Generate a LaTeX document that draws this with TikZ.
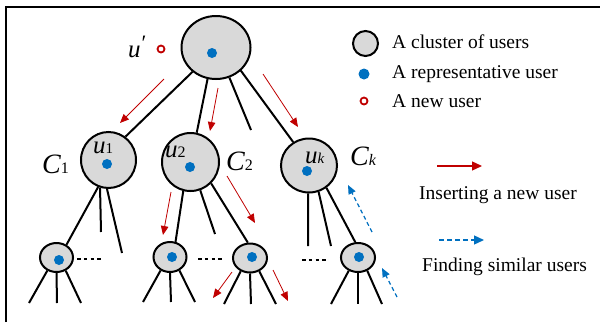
\documentclass[tikz,border=0pt]{standalone}
\usepackage{fontspec}
\setmainfont{Liberation Serif}
\usetikzlibrary{arrows.meta,shapes.geometric}
\definecolor{cgray}{RGB}{217,217,217}
\definecolor{cblue}{RGB}{0,112,192}
\definecolor{cred}{RGB}{192,0,0}
\newcommand\legfont{\fontsize{19.5}{19.5}\selectfont}
\newcommand\ufont{\fontsize{25}{25}\selectfont\itshape}
\newcommand\usubfont{\fontsize{15}{15}\selectfont}
\newcommand\cfont{\fontsize{28}{28}\selectfont\itshape}
\newcommand\csubfont{\fontsize{16}{16}\selectfont}
\begin{document}
\begin{tikzpicture}[x=1pt,y=-1pt,
  clus/.style={ellipse, draw=black, line width=2pt, fill=cgray, inner sep=0pt},
  rep/.style={circle, fill=cblue, inner sep=0pt, minimum size=10pt},
  newu/.style={circle, draw=cred, line width=1.8pt, inner sep=0pt, minimum size=7pt},
  tline/.style={line width=2pt},
  dotsline/.style={line width=2pt, dash pattern=on 3.5pt off 3.3pt},
  ins/.style={cred, line width=0.8pt, -{Triangle[length=9pt,width=7.5pt]}},
  fnd/.style={cblue, line width=1.2pt, dash pattern=on 4pt off 3pt, -{Triangle[length=9pt,width=7.5pt]}},
  lbl/.style={inner sep=0pt, anchor=base west}]
\useasboundingbox (0,0) rectangle (600,322);
\fill[white] (0,0) rectangle (600,322);
% frame
\coordinate (fa) at (6,322);
\coordinate (fb) at (6,7);
\coordinate (fc) at (600,7);
\draw[line width=2.2pt] (fa) -- (fb) -- (fc);

% clusters
\node[clus, minimum width=69pt, minimum height=63pt] (root) at (216,47.5) {};
\node[clus, minimum width=55pt, minimum height=56pt] (c1) at (108.5,160) {};
\node[clus, minimum width=57pt, minimum height=58pt] (c2) at (190.5,162) {};
\node[clus, minimum width=56pt, minimum height=54pt] (ck) at (309,165.5) {};
\node[clus, minimum width=33pt, minimum height=29pt] (l1) at (56.5,257.5) {};
\node[clus, minimum width=33pt, minimum height=30pt] (l2) at (170,257) {};
\node[clus, minimum width=34pt, minimum height=29pt] (l3) at (250,258) {};
\node[clus, minimum width=34pt, minimum height=29pt] (l4) at (358,257.5) {};

% representative users
\node[rep] (droot) at (212,53) {};
\node[rep] (dc1) at (107,164) {};
\node[rep] (dc2) at (190,167) {};
\node[rep] (dck) at (307,171) {};
\node[rep] (dl1) at (59,260) {};
\node[rep] (dl2) at (172,257) {};
\node[rep] (dl3) at (252,257) {};
\node[rep] (dl4) at (359,257) {};

% new user
\node[newu] (nu) at (161,49) {};
\node[lbl] (uprime) at (128,57) {{\ufont u}\raisebox{7pt}{\fontsize{22}{22}\selectfont\kern1pt ′}};

% labels
\node[lbl] (lu1) at (93,153) {{\ufont u}{\usubfont 1}};
\node[lbl] (lu2) at (165,157) {{\ufont u}{\fontsize{16}{16}\selectfont 2}};
\node[lbl] (luk) at (305,163) {{\ufont u}{\usubfont\itshape k}};
\node[lbl] (lc1) at (42,173) {{\cfont C}{\csubfont 1}};
\node[lbl] (lc2) at (226,170) {{\cfont C}{\csubfont 2}};
\node[lbl] (lck) at (350,165) {{\cfont C}{\csubfont\itshape k}};

% free ends
\coordinate (rd) at (251,130);
\coordinate (c1d1) at (101,232);
\coordinate (c1d2) at (122,253);
\coordinate (c2d) at (215,234);
\coordinate (ckd1) at (308,246);
\coordinate (ckd2) at (331,246);

% tree edges
\draw[tline] (root.226) -- (c1.54);
\draw[tline] (root.255) -- (c2.78);
\draw[tline] (root.294) -- (rd);
\draw[tline] (root.317) -- (ck.124);
\draw[tline] (c1.249) -- (l1.52);
\draw[tline] (c1.253) -- (c1d1);
\draw[tline] (c1.267) -- (c1d2);
\draw[tline] (c2.256) -- (l2.70);
\draw[tline] (c2.289) -- (c2d);
\draw[tline] (c2.314) -- (l3.98);
\draw[tline] (ck.268) -- (ckd1);
\draw[tline] (ck.290) -- (ckd2);
\draw[tline] (ck.308) -- (l4.100);

% legs
\coordinate (l1a) at (29,303); \coordinate (l1b) at (57,303); \coordinate (l1c) at (81,303);
\coordinate (l2a) at (143,302); \coordinate (l2b) at (171,302); \coordinate (l2c) at (195,302);
\coordinate (l3a) at (224,304); \coordinate (l3b) at (251,304); \coordinate (l3c) at (276,304);
\coordinate (l4a) at (331,304); \coordinate (l4b) at (358,304); \coordinate (l4c) at (382,304);
\foreach \n in {l1,l2,l3,l4}{
  \draw[tline] (\n.235) -- (\n a);
  \draw[tline] (\n.270) -- (\n b);
  \draw[tline] (\n.305) -- (\n c);
}

% dashes between siblings
\coordinate (d1a) at (77,259); \coordinate (d1b) at (101,259);
\coordinate (d2a) at (198,259); \coordinate (d2b) at (222,259);
\coordinate (d3a) at (302,260); \coordinate (d3b) at (326,260);
\draw[dotsline] (d1a) -- (d1b);
\draw[dotsline] (d2a) -- (d2b);
\draw[dotsline] (d3a) -- (d3b);

% inserting arrows
\draw[ins] (164,79) coordinate (i1a) -- (120,123) coordinate (i1b);
\draw[ins] (218,88) coordinate (i2a) -- (210,131) coordinate (i2b);
\draw[ins] (263,74) coordinate (i3a) -- (298,127) coordinate (i3b);
\draw[ins] (171,192) coordinate (i4a) -- (163,235) coordinate (i4b);
\draw[ins] (227,176) coordinate (i5a) -- (255,223) coordinate (i5b);
\draw[ins] (232,272) coordinate (i6a) -- (213,298) coordinate (i6b);
\draw[ins] (273,270) coordinate (i7a) -- (288,301) coordinate (i7b);

% finding arrows
\draw[fnd] (372,232) coordinate (f1a) -- (348,185) coordinate (f1b);
\draw[fnd] (397,297) coordinate (f2a) -- (382,268) coordinate (f2b);

% legend
\node[clus, minimum width=25pt, minimum height=25pt] (legc) at (365.5,43.5) {};
\node[rep, minimum size=11pt] (legd) at (364,74) {};
\node[newu] (legn) at (364,101) {};
\node[lbl, font=\legfont] (t1) at (392,48) {A cluster of users};
\node[lbl, font=\legfont] (t2) at (392,78) {A representative user};
\node[lbl, font=\legfont] (t3) at (392,107) {A new user};
\draw[cred, line width=1.3pt, -{Triangle[length=10pt,width=9pt]}] (437,166) coordinate (la) -- (482,166) coordinate (lb);
\node[lbl, font=\legfont] (t4) at (419,199) {Inserting a new user};
\draw[cblue, line width=1.3pt, dash pattern=on 5pt off 3pt, -{Triangle[length=10pt,width=9pt]}] (439,240) coordinate (lc) -- (484,240) coordinate (ld);
\node[lbl, font=\legfont] (t5) at (422,271) {Finding similar users};
\end{tikzpicture}
\end{document}
